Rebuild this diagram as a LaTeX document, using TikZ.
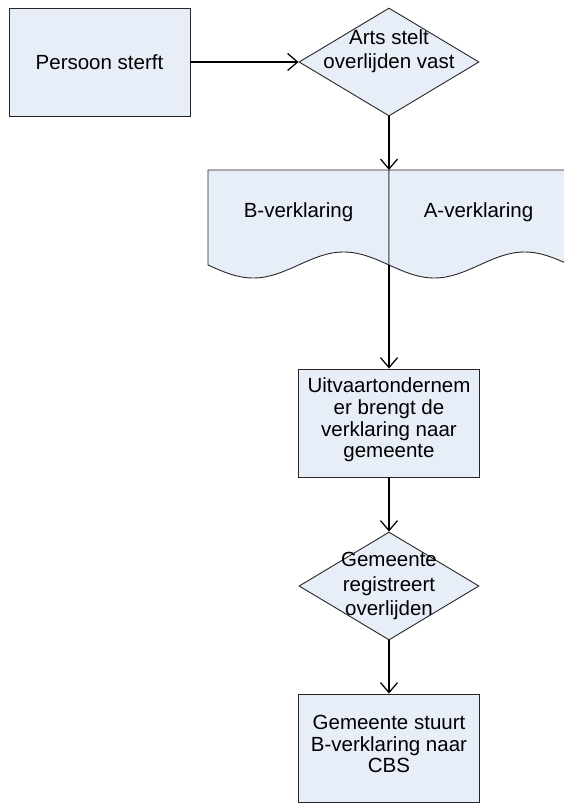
\documentclass[tikz,border=0pt]{standalone}
\usepackage{fontspec}
\setmainfont{Liberation Sans}
\usetikzlibrary{shapes.geometric,arrows.meta}
\definecolor{shapefill}{RGB}{232,238,248}

\begin{document}
\begin{tikzpicture}[x=1pt,y=-1pt,
  box/.style={draw=black!85, fill=shapefill, line width=0.9pt, minimum width=181pt, minimum height=108pt, inner sep=0pt},
  decision/.style={diamond, draw=black!85, fill=shapefill, line width=0.9pt, minimum width=180pt, minimum height=108pt, inner sep=0pt},
  txt/.style={inner sep=0pt, align=center, font=\fontsize{20.5}{21.7}\selectfont},
  dtxt/.style={txt, font=\fontsize{20.5}{24.3}\selectfont},
  flow/.style={-{Straight Barb[length=10pt,width=17pt]}, line width=1.25pt}]
  \useasboundingbox (0,0) rectangle (564,803);
  \clip (0,0) rectangle (564,803);

  \node[box] (persoon) at (99.5,62) {};
  \node[txt] (persoontxt) at (persoon) {Persoon sterft};

  \node[decision] (arts) at (389,62) {};
  \node[dtxt] (artstxt) at (389,51.5) {Arts stelt\\overlijden vast};

  % two documents side by side
  \filldraw[draw=black!85, fill=shapefill, line width=0.9pt] (208,265) -- (208,170) -- (389,170) -- (389,265)
    sin (343.75,252) cos (298.5,265) sin (253.25,278) cos (208,265) -- cycle;
  \filldraw[draw=black!85, fill=shapefill, line width=0.9pt] (389,265) -- (389,170) -- (570,170) -- (570,265)
    sin (524.75,252) cos (479.5,265) sin (434.25,278) cos (389,265) -- cycle;
  \node[txt] (bverkl) at (298.5,212.5) {B-verklaring};
  \node[txt] (averkl) at (478.5,212.5) {A-verklaring};
  \coordinate (doctop) at (389,170);
  \coordinate (docbot) at (389,265);

  \node[box] (uitvaart) at (389,423) {};
  \node[txt] (uitvaarttxt) at (389,420) {Uitvaartondernem\\er brengt de\\verklaring naar\\gemeente};

  \node[decision] (registreert) at (389,586) {};
  \node[dtxt] (registreerttxt) at (389,586) {Gemeente\\registreert\\overlijden};

  \node[box] (stuurt) at (389,748) {};
  \node[txt] (stuurttxt) at (389,744) {Gemeente stuurt\\B-verklaring naar\\CBS};

  \draw[flow] (persoon) -- (arts);
  \draw[flow] (arts) -- (doctop);
  \draw[flow] (docbot) -- (uitvaart);
  \draw[flow] (uitvaart) -- (registreert);
  \draw[flow] (registreert) -- (stuurt);
\end{tikzpicture}
\end{document}
